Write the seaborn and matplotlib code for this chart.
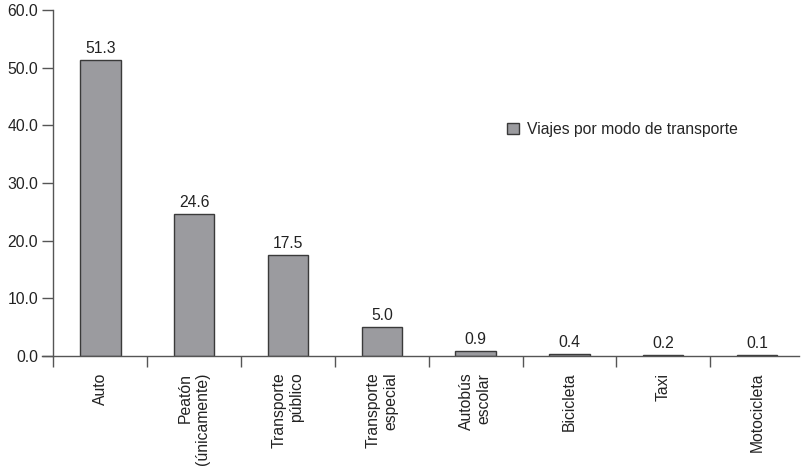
import matplotlib
matplotlib.use("Agg")
import matplotlib.pyplot as plt
import seaborn as sns
import pandas as pd
import numpy as np

categories = ["Auto", "Peatón\n(únicamente)", "Transporte\npúblico", "Transporte\nespecial",
              "Autobús\nescolar", "Bicicleta", "Taxi", "Motocicleta"]
values = [51.3, 24.6, 17.5, 5.0, 0.9, 0.4, 0.2, 0.1]
series_name = "Viajes por modo de transporte"
yticks = [0, 10, 20, 30, 40, 50, 60]

sns.set_style("white")
plt.rcParams['font.family'] = ['Liberation Sans', 'DejaVu Sans']

FS = 11.3
df = pd.DataFrame({"modo": categories, "valor": values, "serie": series_name})

fig = plt.figure(figsize=(8.04, 4.67), dpi=100)
ax = fig.add_axes([53.5/804, 1 - 356/467, 1 - 53.5/804, (356 - 10)/467])

sns.barplot(data=df, x="modo", y="valor", hue="serie", ax=ax, width=0.43,
            palette=["#9b9b9f"], edgecolor="#3a3a3a", linewidth=1.0, saturation=1)

ax.set_ylim(0, 60)
ax.set_xlim(-0.5, 7.45)
ax.set_yticks(yticks)
ax.set_yticklabels([f"{v:.1f}" for v in yticks], fontsize=FS, color="#222222")
ax.set_xlabel("")
ax.set_ylabel("")

ax.set_xticks(range(len(categories)))
ax.set_xticklabels(categories, rotation=90, fontsize=FS, color="#222222",
                   ha="center", va="top", multialignment="right")
ax.tick_params(axis="x", which="major", bottom=True, length=0, pad=12)
ax.set_xticks(np.arange(-0.5, 8, 1.0), minor=True)
ax.tick_params(axis="x", which="minor", bottom=True, length=8, width=1, color="#555555", direction="out")
ax.tick_params(axis="y", which="major", left=True, length=8, width=1, color="#555555", direction="out", pad=3)

for s in ["top", "right"]:
    ax.spines[s].set_visible(False)
for s in ["left", "bottom"]:
    ax.spines[s].set_color("#555555")
    ax.spines[s].set_linewidth(1)
ax.spines["bottom"].set_bounds(-0.62, 7.45)

for cont in ax.containers:
    ax.bar_label(cont, labels=[f"{v:.1f}" for v in values], padding=3, fontsize=FS, color="#222222")

ax.legend(loc="center left", bbox_to_anchor=(0.586, 0.655), frameon=False, fontsize=FS,
          handlelength=0.75, handleheight=0.75, handletextpad=0.5)

fig.savefig("out.png", dpi=100)
